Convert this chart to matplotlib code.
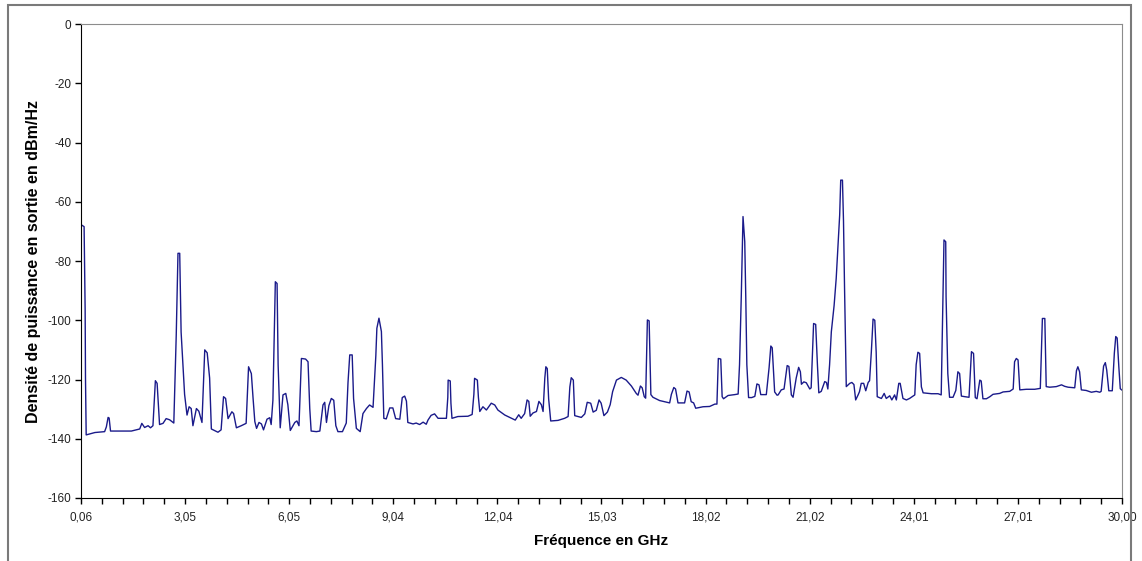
import matplotlib
matplotlib.use("Agg")
import matplotlib.pyplot as plt
from matplotlib.patches import Rectangle

plt.rcParams['font.family'] = ['Liberation Sans', 'DejaVu Sans']

# spectre : frequence (GHz), densite (dBm/Hz)
freq_ghz = [
    0.07, 0.15, 0.18, 0.19, 0.21, 0.46, 0.74, 0.79, 0.84, 0.87, 0.91, 1.51, 1.75, 1.81,
    1.89, 1.99, 2.06, 2.13, 2.20, 2.25, 2.32, 2.42, 2.51, 2.61, 2.73, 2.80, 2.85, 2.90,
    2.94, 3.04, 3.11, 3.17, 3.23, 3.28, 3.38, 3.45, 3.54, 3.62, 3.69, 3.76, 3.81, 4.00,
    4.09, 4.16, 4.22, 4.29, 4.40, 4.45, 4.53, 4.67, 4.81, 4.88, 4.96, 5.01, 5.06, 5.11,
    5.18, 5.25, 5.31, 5.41, 5.49, 5.53, 5.58, 5.65, 5.70, 5.73, 5.79, 5.87, 5.95, 6.01,
    6.08, 6.21, 6.27, 6.33, 6.40, 6.52, 6.59, 6.64, 6.68, 6.83, 6.93, 7.02, 7.07, 7.12,
    7.19, 7.26, 7.33, 7.39, 7.45, 7.58, 7.69, 7.74, 7.79, 7.86, 7.90, 7.98, 8.09, 8.17,
    8.27, 8.36, 8.46, 8.54, 8.57, 8.63, 8.70, 8.73, 8.77, 8.84, 8.94, 9.03, 9.11, 9.23,
    9.30, 9.37, 9.42, 9.46, 9.61, 9.70, 9.80, 9.90, 9.99, 10.04, 10.13, 10.23, 10.33,
    10.57, 10.61, 10.62, 10.68, 10.70, 10.73, 10.90, 11.19, 11.31, 11.36, 11.38, 11.46,
    11.49, 11.53, 11.62, 11.72, 11.86, 11.96, 12.05, 12.25, 12.44, 12.55, 12.65, 12.72,
    12.82, 12.89, 12.94, 12.98, 13.06, 13.16, 13.23, 13.30, 13.35, 13.40, 13.43, 13.47,
    13.51, 13.57, 13.78, 13.97, 14.07, 14.12, 14.16, 14.22, 14.26, 14.45, 14.55, 14.62,
    14.72, 14.79, 14.88, 14.96, 15.02, 15.10, 15.20, 15.28, 15.35, 15.46, 15.60, 15.74,
    15.89, 16.03, 16.08, 16.15, 16.20, 16.26, 16.30, 16.35, 16.40, 16.45, 16.51, 16.70,
    16.99, 17.04, 17.11, 17.16, 17.23, 17.42, 17.49, 17.55, 17.61, 17.68, 17.74, 17.95,
    18.14, 18.29, 18.35, 18.39, 18.46, 18.50, 18.54, 18.67, 18.86, 18.96, 19.00, 19.05,
    19.10, 19.15, 19.18, 19.21, 19.26, 19.35, 19.44, 19.50, 19.56, 19.61, 19.77, 19.85,
    19.90, 19.94, 20.01, 20.08, 20.11, 20.20, 20.28, 20.37, 20.42, 20.49, 20.54, 20.63,
    20.70, 20.75, 20.78, 20.85, 20.92, 21.02, 21.06, 21.13, 21.19, 21.24, 21.28, 21.35,
    21.45, 21.50, 21.54, 21.59, 21.64, 21.72, 21.78, 21.83, 21.88, 21.91, 21.96, 21.99,
    22.02, 22.07, 22.17, 22.23, 22.29, 22.34, 22.41, 22.45, 22.50, 22.57, 22.63, 22.70,
    22.74, 22.79, 22.84, 22.89, 22.93, 22.96, 23.08, 23.16, 23.22, 23.32, 23.38, 23.46,
    23.51, 23.58, 23.62, 23.70, 23.80, 23.89, 24.04, 24.08, 24.13, 24.18, 24.23, 24.28,
    24.52, 24.71, 24.80, 24.85, 24.88, 24.93, 24.94, 24.99, 25.04, 25.14, 25.22, 25.28,
    25.33, 25.38, 25.48, 25.60, 25.67, 25.73, 25.78, 25.83, 25.91, 25.95, 26.00, 26.10,
    26.20, 26.29, 26.48, 26.58, 26.77, 26.87, 26.91, 26.96, 27.01, 27.06, 27.25, 27.49,
    27.65, 27.71, 27.78, 27.82, 27.92, 28.11, 28.26, 28.35, 28.45, 28.64, 28.69, 28.73,
    28.78, 28.83, 28.97, 29.12, 29.26, 29.36, 29.40, 29.47, 29.52, 29.56, 29.62, 29.72,
    29.78, 29.82, 29.86, 29.91, 29.95, 29.99,
]
dsp_dbm_hz = [
    -67.8, -68.4, -96.5, -119.5, -138.7, -137.9, -137.6, -136.0, -132.8, -133.0, -137.4, -137.4, -136.7, -134.8,
    -136.2, -135.6, -136.3, -135.6, -120.4, -121.3, -135.2, -134.8, -133.2, -133.6, -134.7, -105.0, -77.4, -77.4,
    -104.0, -125.0, -132.0, -129.2, -129.8, -135.6, -129.8, -130.7, -134.5, -110.0, -111.0, -119.5, -136.7, -137.8,
    -137.0, -125.8, -126.4, -133.2, -130.9, -131.5, -136.3, -135.6, -134.8, -115.7, -118.0, -126.4, -134.2, -136.5,
    -134.5, -135.0, -137.0, -133.4, -132.9, -135.2, -127.0, -87.0, -87.6, -115.0, -136.3, -125.2, -124.7, -128.5,
    -137.2, -134.5, -134.0, -135.6, -112.9, -113.1, -114.0, -129.8, -137.4, -137.6, -137.4, -128.6, -127.7, -134.5,
    -128.8, -126.4, -127.0, -135.6, -137.6, -137.6, -134.7, -121.0, -111.7, -111.7, -126.4, -136.5, -137.6, -131.5,
    -129.8, -128.6, -129.4, -112.0, -102.7, -99.3, -103.8, -115.0, -133.1, -133.3, -129.6, -129.6, -133.2, -133.4,
    -126.1, -125.6, -127.3, -134.5, -135.0, -134.7, -135.2, -134.4, -135.1, -133.7, -132.1, -131.6, -133.1,
    -133.1, -126.0, -120.2, -120.5, -128.0, -133.1, -132.5, -132.4, -131.8, -125.0, -119.6, -120.2,
    -126.0, -130.8, -129.2, -130.3, -128.0, -128.6, -130.3, -132.0, -133.1, -133.7, -131.9, -133.1,
    -131.5, -126.9, -127.4, -132.4, -131.3, -130.8, -127.4, -128.5, -130.8, -119.5, -115.7, -116.3,
    -126.5, -134.0, -133.8, -133.1, -132.5, -122.5, -119.4, -120.2, -132.2, -132.8, -131.6, -127.7,
    -128.0, -131.0, -130.4, -126.9, -128.0, -132.2, -131.0, -128.5, -124.1, -120.2, -119.3, -120.2,
    -122.2, -124.7, -125.3, -122.2, -122.8, -125.8, -126.3, -99.9, -100.2, -125.1, -126.0, -127.1,
    -127.9, -125.0, -122.7, -123.2, -127.9, -127.9, -123.9, -124.2, -127.5, -127.9, -129.7, -129.2,
    -129.1, -128.3, -128.3, -112.9, -113.1, -125.8, -126.5, -125.4, -125.1, -124.9, -115.0, -92.0,
    -65.0, -73.5, -92.5, -115.0, -126.1, -126.1, -125.7, -121.5, -121.8, -125.1, -125.1, -116.0,
    -108.7, -109.3, -124.2, -125.3, -125.2, -123.5, -123.2, -115.3, -115.6, -125.2, -126.0, -119.5,
    -115.9, -117.4, -121.6, -120.8, -121.1, -123.2, -122.8, -101.1, -101.4, -115.0, -124.5, -124.0,
    -120.7, -121.0, -123.2, -115.0, -103.9, -95.0, -85.9, -75.5, -64.5, -52.7, -52.7, -66.5,
    -89.0, -122.4, -121.3, -121.0, -121.7, -126.9, -125.2, -124.1, -121.3, -121.3, -123.8, -121.0,
    -120.4, -110.8, -99.6, -100.0, -110.8, -125.8, -126.4, -124.7, -126.4, -125.5, -126.9, -125.2,
    -126.9, -121.3, -121.3, -126.4, -126.9, -126.4, -125.2, -115.0, -110.8, -111.2, -122.5, -124.5,
    -124.8, -124.8, -125.2, -93.0, -72.9, -73.5, -92.0, -118.0, -126.0, -126.0, -123.7, -117.4,
    -118.0, -125.6, -125.8, -126.0, -110.6, -111.2, -126.1, -126.5, -120.2, -120.5, -126.5, -126.5,
    -125.8, -125.0, -124.7, -124.2, -124.0, -123.2, -114.0, -112.9, -113.4, -123.5, -123.3, -123.3,
    -123.0, -99.4, -99.4, -122.4, -122.6, -122.4, -121.8, -122.3, -122.6, -122.8, -117.0, -115.7,
    -117.4, -123.5, -123.7, -124.3, -124.0, -124.3, -124.0, -115.5, -114.3, -116.8, -123.8, -123.8,
    -111.0, -105.5, -106.0, -116.0, -123.1, -123.5,
]

x_tick_labels = ['0,06', '3,05', '6,05', '9,04', '12,04', '15,03',
                 '18,02', '21,02', '24,01', '27,01', '30,00']
y_ticks = [0, -20, -40, -60, -80, -100, -120, -140, -160]

fig = plt.figure(figsize=(11.42, 5.61), dpi=100)
ax = fig.add_axes([0.0709, 0.1123, 0.9116, 0.8449])

ax.plot(freq_ghz, dsp_dbm_hz, color='#1a1a8a', lw=1.0)

f_min, f_max = 0.06, 30.0
ax.set_xlim(f_min, f_max)
ax.set_ylim(-160, 0)

# 50 graduations, une etiquette toutes les 5
step = (f_max - f_min) / 50
x_ticks = [f_min + i * step for i in range(51)]
ax.set_xticks(x_ticks)
ax.set_xticklabels([x_tick_labels[i // 5] if i % 5 == 0 else '' for i in range(51)])
ax.set_yticks(y_ticks)
ax.set_yticklabels([str(v) for v in y_ticks])
ax.tick_params(axis='both', direction='out', length=4, width=1, color='black',
               labelsize=8.5, labelcolor='#222222', pad=3)
ax.tick_params(axis='x', pad=6)

for side in ('top', 'right'):
    ax.spines[side].set_color('#8c8c8c')
for side in ('left', 'bottom'):
    ax.spines[side].set_color('black')

ax.set_xlabel('Fréquence en GHz', fontsize=11, fontweight='bold')
ax.set_ylabel('Densité de puissance en sortie en dBm/Hz', fontsize=11.5,
              fontweight='bold')
ax.xaxis.set_label_coords(0.5, -0.077)
ax.yaxis.set_label_coords(-0.038, 0.5)

# cadre exterieur du graphique
fig.patches.append(Rectangle((8 / 1142, -0.05), 1123 / 1142, 1.05 - 5 / 561,
                             transform=fig.transFigure, fill=False,
                             edgecolor='#7a7a7a', lw=1.5, zorder=10))

fig.savefig('out.png', dpi=100)
